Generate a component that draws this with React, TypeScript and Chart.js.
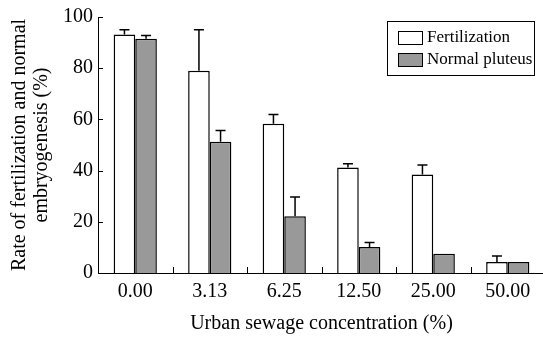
import React, { useEffect, useRef } from 'react';
import { Chart, registerables } from 'chart.js';

Chart.register(...registerables);

const categories = ['0.00', '3.13', '6.25', '12.50', '25.00', '50.00'];
const fertilization = [93.2, 79, 58.3, 41.2, 38.5, 4.3];
const fertilizationErr = [1.8, 16, 3.6, 1.5, 3.7, 2.3];
const pluteus = [91.5, 51.3, 22.2, 10.2, 7.5, 4.3];
const pluteusErr = [1.3, 4.4, 7.5, 1.7, 0, 0];
const yTickValues = [0, 20, 40, 60, 80, 100];
const seriesNames = ['Fertilization', 'Normal pluteus'];
const xTitle = 'Urban sewage concentration (%)';
const yTitle = ['Rate of fertilization and normal', 'embryogenesis (%)'];

const FONT = "'Liberation Serif', 'Times New Roman', serif";
const errors = [fertilizationErr, pluteusErr];

const decorPlugin = {
  id: 'decor',
  afterDatasetsDraw(chart: any) {
    const ctx = chart.ctx;
    const xs = chart.scales.x;
    const ys = chart.scales.y;
    const area = chart.chartArea;
    ctx.save();
    ctx.strokeStyle = '#000';
    // error bars
    ctx.lineWidth = 1.5;
    chart.data.datasets.forEach((ds: any, d: number) => {
      const meta = chart.getDatasetMeta(d);
      meta.data.forEach((bar: any, i: number) => {
        const e = errors[d][i];
        if (!e) return;
        const v = ds.data[i];
        const top = ys.getPixelForValue(v + e);
        ctx.beginPath();
        ctx.moveTo(bar.x, bar.y);
        ctx.lineTo(bar.x, top);
        ctx.moveTo(bar.x - 5, top);
        ctx.lineTo(bar.x + 5, top);
        ctx.stroke();
      });
    });
    // inward ticks
    ctx.lineWidth = 1;
    yTickValues.forEach((v) => {
      const py = Math.round(ys.getPixelForValue(v)) + 0.5;
      ctx.beginPath();
      ctx.moveTo(area.left, py);
      ctx.lineTo(area.left + 5, py);
      ctx.stroke();
    });
    for (let i = 1; i < categories.length; i++) {
      const px = Math.round((xs.getPixelForValue(i - 1) + xs.getPixelForValue(i)) / 2) + 0.5;
      ctx.beginPath();
      ctx.moveTo(px, area.bottom);
      ctx.lineTo(px, area.bottom - 6);
      ctx.stroke();
    }
    // legend
    ctx.lineWidth = 1;
    ctx.strokeRect(387.5, 21.5, 147, 54);
    ctx.font = `17px ${FONT}`;
    ctx.textBaseline = 'middle';
    ctx.textAlign = 'left';
    chart.data.datasets.forEach((ds: any, d: number) => {
      const top = 31.5 + d * 22;
      ctx.fillStyle = ds.backgroundColor;
      ctx.fillRect(398.5, top, 24, 13);
      ctx.strokeRect(398.5, top, 24, 13);
      ctx.fillStyle = '#000';
      ctx.fillText(ds.label, 427, top + 6.5);
    });
    ctx.restore();
  },
};

export default function App() {
  const ref = useRef<HTMLCanvasElement>(null);
  useEffect(() => {
    if (!ref.current) return;
    const chart = new Chart(ref.current, {
      type: 'bar',
      data: {
        labels: categories,
        datasets: [
          {
            label: seriesNames[0],
            data: fertilization,
            backgroundColor: '#ffffff',
            borderColor: '#000000',
            borderWidth: 1.5,
            categoryPercentage: 0.58,
            barPercentage: 1,
          },
          {
            label: seriesNames[1],
            data: pluteus,
            backgroundColor: '#999999',
            borderColor: '#000000',
            borderWidth: 1.5,
            categoryPercentage: 0.58,
            barPercentage: 1,
          },
        ],
      },
      options: {
        responsive: false,
        animation: false,
        devicePixelRatio: 1,
        layout: { padding: { top: 15, right: 1, left: 0, bottom: 0 } },
        plugins: { legend: { display: false }, tooltip: { enabled: false } },
        scales: {
          x: {
            grid: { display: false, drawTicks: false },
            border: { display: true, color: '#000', width: 1 },
            ticks: { color: '#000', font: { family: FONT, size: 20 }, padding: 7 },
            title: {
              display: true,
              text: xTitle,
              color: '#000',
              font: { family: FONT, size: 20 },
              padding: { top: 0, bottom: 3 },
            },
            afterFit: (s: any) => {
              s.height = 66;
            },
          },
          y: {
            min: 0,
            max: 100,
            grid: { display: false, drawTicks: false },
            border: { display: true, color: '#000', width: 1 },
            ticks: { stepSize: 20, color: '#000', font: { family: FONT, size: 20 }, padding: 5 },
            title: {
              display: true,
              text: yTitle,
              color: '#000',
              font: { family: FONT, size: 20, lineHeight: 1.1 },
              padding: { top: 9, bottom: 0 },
            },
            afterFit: (s: any) => {
              s.width = 98;
            },
          },
        },
      },
      plugins: [decorPlugin],
    } as any);
    return () => chart.destroy();
  }, []);
  return (
    <div style={{ position: 'absolute', left: 0, top: 0, width: 543, height: 339, overflow: 'hidden', background: '#fff' }}>
      <canvas ref={ref} width={546} height={339} style={{ display: 'block', width: 546, height: 339 }} />
    </div>
  );
}
